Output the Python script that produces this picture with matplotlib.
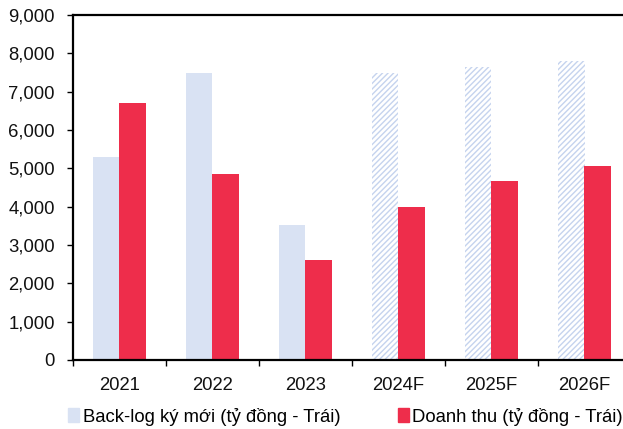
import numpy as np
import matplotlib.pyplot as plt
from matplotlib.patches import Patch

plt.rcParams['font.family'] = ['Liberation Sans', 'DejaVu Sans']

years = ['2021', '2022', '2023', '2024F', '2025F', '2026F']
backlog = [5300, 7490, 3520, 7480, 7650, 7800]
revenue = [6700, 4850, 2610, 3990, 4670, 5060]
forecast = [False, False, False, True, True, True]

blue = '#D9E2F3'
red = '#EE2D4B'

fig = plt.figure(figsize=(6.23, 4.29), dpi=100)
ax = fig.add_axes([73 / 623, 1 - 360 / 429, (631 - 73) / 623, 345 / 429])

x = np.arange(len(years))
w = 0.29
for i in range(len(years)):
    if forecast[i]:
        ax.bar(x[i] - w / 2, backlog[i], w, facecolor='white', edgecolor='#C5D3EE',
               hatch='//////', linewidth=0)
    else:
        ax.bar(x[i] - w / 2, backlog[i], w, color=blue, linewidth=0)
ax.bar(x + w / 2, revenue, w, color=red, linewidth=0)

ax.set_xlim(-0.5, len(years) - 0.5)
ax.set_ylim(0, 9000)
ax.set_yticks(np.arange(0, 9001, 1000))
ax.set_yticklabels([f'{v:,}' for v in range(0, 9001, 1000)])
ax.set_xticks(np.arange(-0.5, len(years), 1))
ax.set_xticklabels([])
ax.set_xticks(x, minor=True)
ax.set_xticklabels(years, minor=True)
ax.tick_params(axis='x', which='minor', length=0, pad=12, labelsize=13.3, colors='#111111')
ax.tick_params(axis='x', which='major', length=4, width=1, direction='out')
ax.tick_params(axis='y', length=4, width=1, direction='out', labelsize=13.3, pad=9)
ax.tick_params(axis='y', colors='black', labelcolor='#111111')

for s in ['left', 'bottom', 'top']:
    ax.spines[s].set_linewidth(1.6)
ax.spines['right'].set_visible(False)

handles = [Patch(color=blue, label='Back-log ký mới (tỷ đồng - Trái)'),
           Patch(color=red, label='Doanh thu (tỷ đồng - Trái)')]
fig.legend(handles=handles, loc='lower left', bbox_to_anchor=(55 / 623, -0.022), ncol=2,
           frameon=False, fontsize=13.3, handlelength=0.6, handleheight=0.8,
           handletextpad=0.2, columnspacing=3.1, borderpad=0.2)

fig.savefig('out.png', dpi=100)
